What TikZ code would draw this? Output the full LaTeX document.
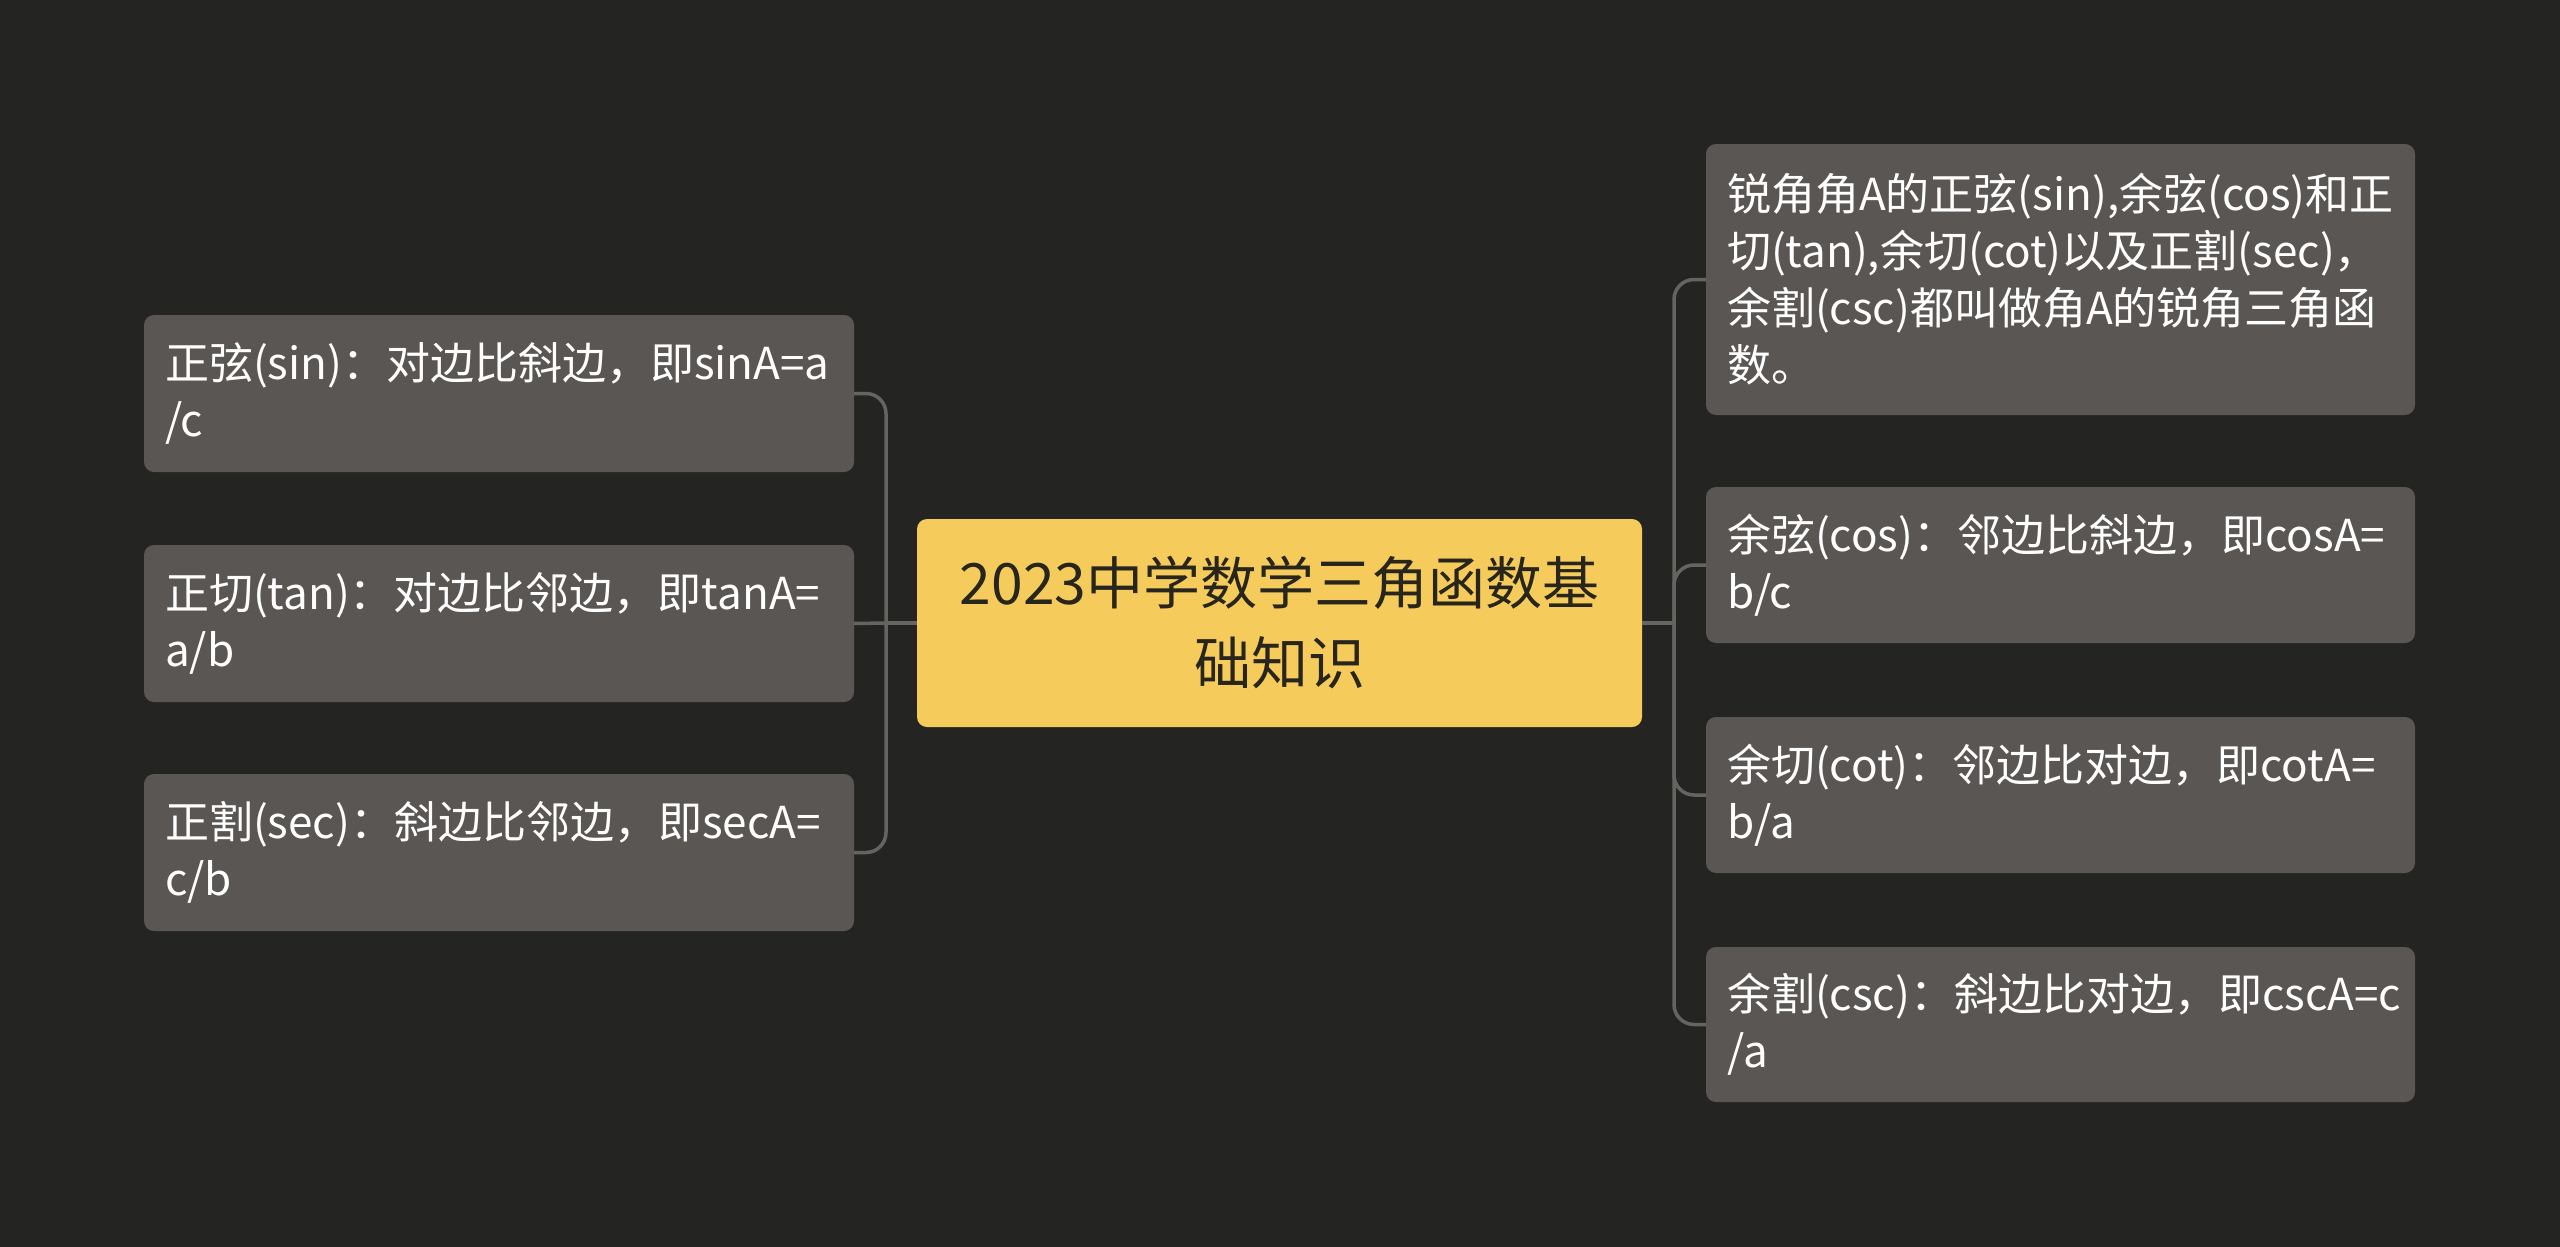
\documentclass[tikz,border=0pt]{standalone}
\usepackage{fontspec}
\newfontfamily\cjk{Noto Sans CJK SC}
\definecolor{bgc}{RGB}{36,36,34}
\definecolor{boxc}{RGB}{89,86,83}
\definecolor{ctrc}{RGB}{245,203,92}
\definecolor{ctrtext}{RGB}{40,38,28}
\definecolor{linec}{RGB}{102,100,97}
\tikzset{
  leaf/.style={fill=boxc, rounded corners=10pt, inner xsep=21pt, inner ysep=0pt,
    text width=668pt, align=left, text=white, minimum height=157pt,
    font=\cjk\fontsize{44}{57}\selectfont},
  root/.style={fill=ctrc, rounded corners=10pt, inner sep=0pt,
    minimum width=725pt, minimum height=208pt, align=center, text=ctrtext,
    font=\cjk\fontsize{57}{80}\selectfont},
  conn/.style={draw=linec, line width=3.5pt, rounded corners=20pt}
}
\begin{document}
\begin{tikzpicture}[x=1pt,y=-1pt]
\useasboundingbox (0,0) rectangle (2560,1247);
\fill[bgc] (0,0) rectangle (2560,1247);

\node[root] (c) at (1279.5,623) {2023中学数学三角函数基\\础知识};

\node[leaf] (l1) at (499,393.5) {正弦(sin)：对边比斜边，即sinA=a\\/c};
\node[leaf] (l2) at (499,623.5) {正切(tan)：对边比邻边，即tanA=\\a/b};
\node[leaf] (l3) at (499,852.5) {正割(sec)：斜边比邻边，即secA=\\c/b};

\node[leaf, text width=667pt, minimum height=271pt] (r1) at (2060.5,279.5) {锐角角A的正弦(sin),余弦(cos)和正\\切(tan),余切(cot)以及正割(sec)，\\余割(csc)都叫做角A的锐角三角函\\数。};
\node[leaf, text width=667pt, minimum height=156pt] (r2) at (2060.5,565) {余弦(cos)：邻边比斜边，即cosA=\\b/c};
\node[leaf, text width=667pt, minimum height=156pt] (r3) at (2060.5,795) {余切(cot)：邻边比对边，即cotA=\\b/a};
\node[leaf, text width=667pt, minimum height=155pt] (r4) at (2060.5,1024.5) {余割(csc)：斜边比对边，即cscA=c\\/a};

\coordinate (jl) at (886,623);
\coordinate (jr) at (1674,623);

\draw[conn] (c.west) -- (jl);
\draw[conn] (jl) |- (l1.east);
\draw[conn] (jl) -- (l2.east);
\draw[conn] (jl) |- (l3.east);

\draw[conn] (c.east) -- (jr);
\draw[conn] (jr) |- (r1.west);
\draw[conn] (jr) |- (r2.west);
\draw[conn] (jr) |- (r3.west);
\draw[conn] (jr) |- (r4.west);
\end{tikzpicture}
\end{document}
